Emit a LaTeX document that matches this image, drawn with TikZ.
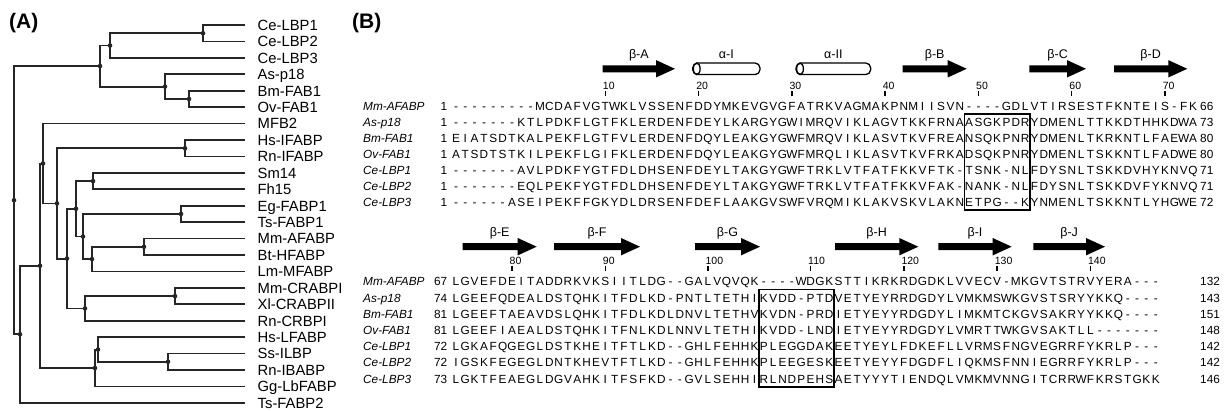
\documentclass[tikz,border=0pt]{standalone}
\usepackage{fontspec}
\setmainfont{Liberation Sans}
\usetikzlibrary{calc}

% alignment grid: first column and column pitch
\newcount\colno
\newcommand{\colx}{456}
\newcommand{\colw}{9.33}

% one aligned sequence: row name, y, label, first no., residues, last no.
\newcommand{\seqrow}[6]{%
  \node[seqname] (#1-name) at (363,#2) {#3};
  \node[seqno,anchor=east] (#1-first) at (447.5,#2) {#4};
  \node[seqno,anchor=west] (#1-last) at (1200,#2) {#6};
  \colno=0 \def\rowname{#1}\def\rowy{#2}\readres#5\relax}
\def\readres#1{\ifx#1\relax\else
  \advance\colno by 1
  \node[res] (\rowname c\the\colno) at ({\colx+(\the\colno-1)*\colw},\rowy) {#1};
  \expandafter\readres\fi}

% numbering tick above a column
\newcommand{\tickmark}[3]{%
  \draw[tick] ([yshift=2.5pt]#1c#2.north) -- ([yshift=7pt]#1c#2.north);
  \node[ticklabel] (tick#3) at ([xshift=-2.5pt,yshift=9pt]#1c#2.north) {#3};}

% secondary structure: name, from, to, y, label
\newcommand{\strand}[5]{%
  \fill (#2,#4-3.5) -- (#3-19,#4-3.5) -- (#3-19,#4-8.7) -- (#3,#4)
    -- (#3-19,#4+8.7) -- (#3-19,#4+3.5) -- (#2,#4+3.5) -- cycle;
  \node[sslabel] (#1) at ({(#2+#3)/2},#4-10.5) {#5};}
\newcommand{\helix}[5]{%
  \draw[helixline] (#2,#4-5.8) rectangle (#3,#4+5.8);
  \draw[line width=1.3pt] (#2+4,#4) ellipse [x radius=3.4pt,y radius=5.8pt];
  \node[sslabel] (#1) at ({(#2+#3)/2},#4-10.5) {#5};}

% tree joint at x, halfway between two children
\newcommand{\clade}[4]{%
  \coordinate (#1-mid) at ($(#3)!0.5!(#4)$);
  \coordinate (#1) at (#2,0 |- #1-mid);
  \draw[branch] (#3) -| (#1) |- (#4);
  \fill[black!85] (#1) circle (2.3pt);}

\begin{document}
\begin{tikzpicture}[x=1pt,y=-1pt,
    branch/.style={line width=1.8pt,black!85},
    leaf/.style={anchor=west,inner xsep=12.5pt,inner ysep=0pt,text height=10.6pt,text depth=0pt,font=\fontsize{14.8}{16}\selectfont},
    res/.style={inner sep=0pt,minimum width=9.33pt,minimum height=16pt,text height=8.4pt,text depth=0pt,font=\fontsize{11.8}{12}\selectfont},
    seqname/.style={anchor=west,inner sep=0pt,minimum height=16pt,text height=8.4pt,text depth=0pt,font=\fontsize{11.8}{12}\selectfont\itshape},
    seqno/.style={inner sep=0pt,minimum height=16pt,text height=8.4pt,text depth=0pt,font=\fontsize{11.8}{12}\selectfont},
    tick/.style={line width=1.4pt},
    ticklabel/.style={anchor=south west,inner sep=0pt,text depth=0pt,font=\fontsize{10.5}{11}\selectfont},
    sslabel/.style={anchor=base,inner sep=0pt,font=\fontsize{12.5}{13}\selectfont},
    helixline/.style={line width=1.3pt,fill=white,rounded corners=5pt},
    motif/.style={line width=1.5pt},
    panel/.style={anchor=base west,inner sep=0pt,font=\fontsize{21}{24}\selectfont\bfseries}]
  \useasboundingbox (0,0) rectangle (1224,411);

  % (A) tree
  \node[panel] (panelA) at (9,28.5) {(A)};
  \foreach \lab [count=\i] in {Ce-LBP1,Ce-LBP2,Ce-LBP3,As-p18,Bm-FAB1,Ov-FAB1,MFB2,Hs-IFABP,Rn-IFABP,Sm14,Fh15,Eg-FABP1,Ts-FABP1,Mm-AFABP,Bt-HFABP,Lm-MFABP,Mm-CRABPI,Xl-CRABPII,Rn-CRBPI,Hs-LFABP,Ss-ILBP,Rn-IBABP,Gg-LbFABP,Ts-FABP2}
    \node[leaf] (leaf\i) at (245,{25+16.43*(\i-1)}) {\lab};
  \clade{n12}{203}{leaf1.west}{leaf2.west}
  \clade{n123}{110}{n12}{leaf3.west}
  \clade{n56}{189}{leaf5.west}{leaf6.west}
  \clade{n456}{165}{leaf4.west}{n56}
  \clade{nNem}{100}{n123}{n456}
  \clade{nIF}{185}{leaf8.west}{leaf9.west}
  \clade{nSF}{93}{leaf10.west}{leaf11.west}
  \clade{nEgTs}{181}{leaf12.west}{leaf13.west}
  \clade{nMB}{144}{leaf14.west}{leaf15.west}
  \clade{nMBL}{92}{nMB}{leaf16.west}
  \clade{nH}{83}{nEgTs}{nMBL}
  \clade{nSFH}{76}{nSF}{nH}
  \clade{nCR}{175}{leaf17.west}{leaf18.west}
  \clade{nCRR}{85}{nCR}{leaf19.west}
  \clade{nMid}{67}{nSFH}{nCRR}
  \clade{nIFmid}{57}{nIF}{nMid}
  \clade{nMFB}{43}{leaf7.west}{nIFmid}
  \clade{nSI}{168}{leaf21.west}{leaf22.west}
  \clade{nLS}{98}{leaf20.west}{nSI}
  \clade{nLiv}{95}{nLS}{leaf23.west}
  \clade{nBig}{40}{nMFB}{nLiv}
  \clade{nOther}{20}{nBig}{leaf24.west}
  \clade{root}{14}{nNem}{nOther}

  % (B) alignment, first block
  \node[panel] (panelB) at (352,28.5) {(B)};
  \strand{bA}{602.7}{675}{68.8}{β-A}
  \helix{aI}{692.7}{760}{68.8}{α-I}
  \helix{aII}{796}{870.7}{68.8}{α-II}
  \strand{bB}{902.7}{966.7}{68.8}{β-B}
  \strand{bC}{1029.3}{1086}{68.8}{β-C}
  \strand{bD}{1114}{1187.3}{68.8}{β-D}
  \seqrow{mmtop}{106.5}{Mm-AFABP}{1}{---------MCDAFVGTWKLVSSENFDDYMKEVGVGFATRKVAGMAKPNMIISVN----GDLVTIRSESTFKNTEIS-FK}{66}
  \seqrow{astop}{122.4}{As-p18}{1}{-------KTLPDKFLGTFKLERDENFDEYLKARGYGWIMRQVIKLAGVTKKFRNAASGKPDRYDMENLTTKKDTHHKDWA}{73}
  \seqrow{bmtop}{138.3}{Bm-FAB1}{1}{EIATSDTKALPEKFLGTFVLERDENFDQYLEAKGYGWFMRQVIKLASVTKVFREANSQKPNRYDMENLTKRKNTLFAEWA}{80}
  \seqrow{ovtop}{154.2}{Ov-FAB1}{1}{ATSDTSTKILPEKFLGIFKLERDENFDQYLEAKGYGWFMRQLIKLASVTKVFRKADSQKPNRYDMENLTSKKNTLFADWE}{80}
  \seqrow{ceatop}{170.1}{Ce-LBP1}{1}{-------AVLPDKFYGTFDLDHSENFDEYLTAKGYGWFTRKLVTFATFKKVFTK-TSNK-NLFDYSNLTSKKDVHYKNVQ}{71}
  \seqrow{cebtop}{186}{Ce-LBP2}{1}{-------EQLPEKFYGTFDLDHSENFDEYLTAKGYGWFTRKLVTFATFKKVFAK-NANK-NLFDYSNLTSKKDVFYKNVQ}{71}
  \seqrow{cectop}{201.9}{Ce-LBP3}{1}{------ASEIPEKFFGKYDLDRSENFDEFLAAKGVSWFVRQMIKLAKVSKVLAKNETPG--KYNMENLTSKKNTLYHGWE}{72}
  \foreach \n in {10,20,...,70} {\pgfmathtruncatemacro{\c}{\n+7}\tickmark{mmtop}{\c}{\n}}
  \draw[motif] (astopc56.north west) rectangle (cectopc62.south east);

  % second block
  \strand{bE}{462.7}{536.7}{246.7}{β-E}
  \strand{bF}{554}{640}{246.7}{β-F}
  \strand{bG}{695}{760}{246.7}{β-G}
  \strand{bH}{835}{918.3}{246.7}{β-H}
  \strand{bI}{938.3}{1011.7}{246.7}{β-I}
  \strand{bJ}{1033.3}{1105}{246.7}{β-J}
  \seqrow{mmbot}{281.7}{Mm-AFABP}{67}{LGVEFDEITADDRKVKSIITLDG--GALVQVQK----WDGKSTTIKRKRDGDKLVVECV-MKGVTSTRVYERA---}{132}
  \seqrow{asbot}{297.9}{As-p18}{74}{LGEEFQDEALDSTQHKITFDLKD-PNTLTETHIKVDD-PTDVETYEYRRDGDYLVMKMSWKGVSTSRYYKKQ----}{143}
  \seqrow{bmbot}{314.1}{Bm-FAB1}{81}{LGEEFTAEAVDSLQHKITFDLKDLDNVLTETHVKVDN-PRDIETYEYYRDGDYLIMKMTCKGVSAKRYYKKQ----}{151}
  \seqrow{ovbot}{330.3}{Ov-FAB1}{81}{LGEEFIAEALDSTQHKITFNLKDLNNVLTETHIKVDD-LNDIETYEYYRDGDYLVMRTTWKGVSAKTLL-------}{148}
  \seqrow{ceabot}{346.5}{Ce-LBP1}{72}{LGKAFQGEGLDSTKHEITFTLKD--GHLFEHHKPLEGGDAKEETYEYLFDKEFLLVRMSFNGVEGRRFYKRLP---}{142}
  \seqrow{cebbot}{362.7}{Ce-LBP2}{72}{IGSKFEGEGLDNTKHEVTFTLKD--GHLFEHHKPLEEGESKEETYEYYFDGDFLIQKMSFNNIEGRRFYKRLP---}{142}
  \seqrow{cecbot}{378.9}{Ce-LBP3}{73}{LGKTFEAEGLDGVAHKITFSFKD--GVLSEHHIRLNDPEHSAETYYYTIENDQLVMKMVNNGITCRRWFKRSTGKK}{146}
  \foreach \n/\c in {80/7,90/17,100/28,110/39,120/49,130/59,140/69} {\tickmark{mmbot}{\c}{\n}}
  \draw[motif] (asbotc34.north west) rectangle (cecbotc41.south east);
\end{tikzpicture}
\end{document}
